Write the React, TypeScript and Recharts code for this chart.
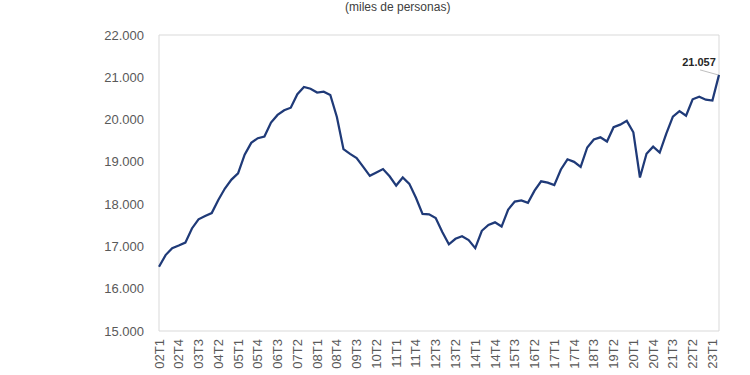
import React from 'react';
import { LineChart, Line, XAxis, YAxis, ReferenceArea, LabelList } from 'recharts';

// trimestres 2002T1 - 2023T2
const quarters = [
  '02T1', '02T2', '02T3', '02T4', '03T1', '03T2', '03T3', '03T4',
  '04T1', '04T2', '04T3', '04T4', '05T1', '05T2', '05T3', '05T4',
  '06T1', '06T2', '06T3', '06T4', '07T1', '07T2', '07T3', '07T4',
  '08T1', '08T2', '08T3', '08T4', '09T1', '09T2', '09T3', '09T4',
  '10T1', '10T2', '10T3', '10T4', '11T1', '11T2', '11T3', '11T4',
  '12T1', '12T2', '12T3', '12T4', '13T1', '13T2', '13T3', '13T4',
  '14T1', '14T2', '14T3', '14T4', '15T1', '15T2', '15T3', '15T4',
  '16T1', '16T2', '16T3', '16T4', '17T1', '17T2', '17T3', '17T4',
  '18T1', '18T2', '18T3', '18T4', '19T1', '19T2', '19T3', '19T4',
  '20T1', '20T2', '20T3', '20T4', '21T1', '21T2', '21T3', '21T4',
  '22T1', '22T2', '22T3', '22T4', '23T1', '23T2'
];

// ocupados, miles de personas
const employed = [
  16520, 16795, 16960, 17020, 17090, 17425, 17640, 17720,
  17790, 18100, 18370, 18580, 18730, 19170, 19450, 19560,
  19600, 19930, 20110, 20220, 20280, 20600, 20770, 20730,
  20640, 20660, 20580, 20060, 19300, 19190, 19090, 18880,
  18670, 18750, 18830, 18660, 18440, 18630, 18480, 18150,
  17770, 17760, 17670, 17340, 17050, 17180, 17240, 17150,
  16960, 17370, 17510, 17570, 17470, 17870, 18060, 18090,
  18030, 18320, 18540, 18510, 18450, 18820, 19060, 19000,
  18880, 19340, 19530, 19580, 19480, 19820, 19880, 19970,
  19700, 18630, 19190, 19360, 19220, 19670, 20070, 20200,
  20090, 20480, 20540, 20470, 20450, 21057
];

const yTicks = [15000, 16000, 17000, 18000, 19000, 20000, 21000, 22000];

const data = quarters.map((q, i) => ({ q, v: employed[i] }));

const fmt = (n: number) => String(n).replace(/\B(?=(\d{3})+(?!\d))/g, '.');

const FONT = '"Liberation Sans", Arial, sans-serif';

const XTick = ({ x, y, payload }: any) => (
  <text
    x={x}
    y={y}
    transform={`rotate(-90 ${x} ${y})`}
    textAnchor="end"
    dominantBaseline="central"
    fontSize={13}
    fontFamily={FONT}
    fill="#595959"
  >
    {payload.value}
  </text>
);

const EndLabel = ({ x, y, index, value }: any) => {
  if (index !== employed.length - 1) return null;
  return (
    <g>
      <line x1={x - 19} y1={y - 5} x2={x - 1} y2={y} stroke="#bfbfbf" strokeWidth={1} />
      <text
        x={x - 20}
        y={y - 9}
        textAnchor="middle"
        fontSize={11}
        fontWeight="bold"
        fontFamily={FONT}
        fill="#262626"
      >
        {fmt(value)}
      </text>
    </g>
  );
};

export default function App() {
  return (
    <div style={{ position: 'absolute', left: 0, top: 0, width: 750, height: 375, background: '#fff', fontFamily: FONT }}>
      <div
        style={{
          position: 'absolute',
          left: 345,
          width: 100,
          top: 0,
          textAlign: 'center',
          fontSize: 12,
          lineHeight: '14px',
          color: '#404040',
          whiteSpace: 'nowrap'
        }}
      >
        (miles de personas)
      </div>
      <LineChart width={750} height={375} data={data} margin={{ top: 35, right: 22, left: 0, bottom: 0 }}>
        <ReferenceArea y1={15000} y2={22000} fill="none" stroke="#d9d9d9" strokeWidth={1} />
        <XAxis
          dataKey="q"
          interval={2}
          height={44}
          padding={{ left: 3, right: 9 }}
          axisLine={false}
          tickLine={false}
          tickSize={0}
          tickMargin={8}
          tick={<XTick />}
        />
        <YAxis
          domain={[15000, 22000]}
          ticks={yTicks}
          width={156}
          axisLine={false}
          tickLine={false}
          tickSize={0}
          tickMargin={12}
          tickFormatter={fmt}
          tick={{ fill: '#595959', fontSize: 13, fontFamily: FONT }}
        />
        <Line
          type="linear"
          dataKey="v"
          stroke="#1f3a78"
          strokeWidth={2.25}
          dot={false}
          isAnimationActive={false}
        >
          <LabelList dataKey="v" content={<EndLabel />} />
        </Line>
      </LineChart>
    </div>
  );
}
